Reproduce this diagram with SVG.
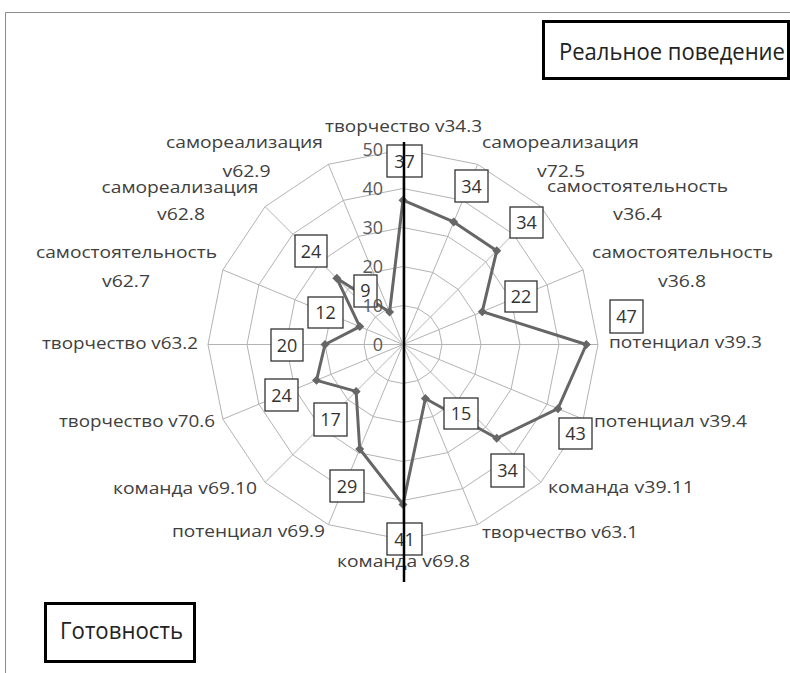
<svg xmlns="http://www.w3.org/2000/svg" width="790" height="673" viewBox="0 0 790 673">
<style>
.frame{stroke:#8c8c8c;stroke-width:1;fill:none}
.grid{stroke:#b3b3b3;stroke-width:1;fill:none}
.tick{font-family:"Open Sans","Liberation Sans",sans-serif;font-size:18px;fill:#595959;text-anchor:end}
.cat{font-family:"Open Sans","Liberation Sans",sans-serif;font-size:16px;fill:#404040}
.mid{text-anchor:middle}
.series{stroke:#666;stroke-width:3;fill:none;stroke-linejoin:round;marker-start:url(#dia);marker-mid:url(#dia)}
.lbox{fill:#fff;stroke:#333;stroke-width:1.3}
.ltxt{font-family:"Open Sans","Liberation Sans",sans-serif;font-size:18px;fill:#333;text-anchor:middle}
.tbox{fill:#fff;stroke:#000;stroke-width:3}
.ttxt{font-family:"Open Sans","Liberation Sans",sans-serif;font-size:23px;fill:#222}
</style>
<defs>
<marker id="dia" markerUnits="userSpaceOnUse" markerWidth="12" markerHeight="12" refX="6" refY="6" orient="0">
<path d="M6 1.5 L10.5 6 L6 10.5 L1.5 6 Z" fill="#666"/>
</marker>
</defs>
<rect width="790" height="673" fill="#fff"/>
<g id="frame">
<path class="frame" d="M5.5 673 V12.5 H790"/>
</g>
<g id="grid">
<polygon class="grid" points="403,149.5 477.62,164.34 540.89,206.61 583.16,269.88 598,344.5 583.16,419.12 540.89,482.39 477.62,524.66 403,539.5 328.38,524.66 265.11,482.39 222.84,419.12 208,344.5 222.84,269.88 265.11,206.61 328.38,164.34"/>
<polygon class="grid" points="403,188.5 462.70,200.37 513.31,234.19 547.13,284.80 559,344.5 547.13,404.20 513.31,454.81 462.70,488.63 403,500.5 343.30,488.63 292.69,454.81 258.87,404.20 247,344.5 258.87,284.80 292.69,234.19 343.30,200.37"/>
<polygon class="grid" points="403,227.5 447.77,236.41 485.73,261.77 511.09,299.73 520,344.5 511.09,389.27 485.73,427.23 447.77,452.59 403,461.5 358.23,452.59 320.27,427.23 294.91,389.27 286,344.5 294.91,299.73 320.27,261.77 358.23,236.41"/>
<polygon class="grid" points="403,266.5 432.85,272.44 458.15,289.35 475.06,314.65 481,344.5 475.06,374.35 458.15,399.65 432.85,416.56 403,422.5 373.15,416.56 347.85,399.65 330.94,374.35 325,344.5 330.94,314.65 347.85,289.35 373.15,272.44"/>
<polygon class="grid" points="403,305.5 417.92,308.47 430.58,316.92 439.03,329.58 442,344.5 439.03,359.42 430.58,372.08 417.92,380.53 403,383.5 388.08,380.53 375.42,372.08 366.97,359.42 364,344.5 366.97,329.58 375.42,316.92 388.08,308.47"/>
<path class="grid" d="M403 344.5 L403 149.5 M403 344.5 L477.62 164.34 M403 344.5 L540.89 206.61 M403 344.5 L583.16 269.88 M403 344.5 L598 344.5 M403 344.5 L583.16 419.12 M403 344.5 L540.89 482.39 M403 344.5 L477.62 524.66 M403 344.5 L403 539.5 M403 344.5 L328.38 524.66 M403 344.5 L265.11 482.39 M403 344.5 L222.84 419.12 M403 344.5 L208 344.5 M403 344.5 L222.84 269.88 M403 344.5 L265.11 206.61 M403 344.5 L328.38 164.34"/>
</g>
<g id="categories">
<text class="cat mid" x="403.5" y="132" textLength="157" lengthAdjust="spacingAndGlyphs">творчество v34.3</text>
<text class="cat mid" x="560.5" y="148" textLength="157" lengthAdjust="spacingAndGlyphs">самореализация</text>
<text class="cat mid" x="561" y="177" textLength="48" lengthAdjust="spacingAndGlyphs">v72.5</text>
<text class="cat mid" x="637.5" y="192" textLength="181" lengthAdjust="spacingAndGlyphs">самостоятельность</text>
<text class="cat mid" x="637.5" y="220" textLength="49" lengthAdjust="spacingAndGlyphs">v36.4</text>
<text class="cat mid" x="682.5" y="258" textLength="181" lengthAdjust="spacingAndGlyphs">самостоятельность</text>
<text class="cat mid" x="682" y="287" textLength="48" lengthAdjust="spacingAndGlyphs">v36.8</text>
<text class="cat" x="609" y="348" textLength="153" lengthAdjust="spacingAndGlyphs">потенциал v39.3</text>
<text class="cat" x="594" y="427" textLength="153" lengthAdjust="spacingAndGlyphs">потенциал v39.4</text>
<text class="cat" x="548" y="493" textLength="146" lengthAdjust="spacingAndGlyphs">команда v39.11</text>
<text class="cat" x="482" y="538" textLength="156" lengthAdjust="spacingAndGlyphs">творчество v63.1</text>
<text class="cat" x="337" y="567" textLength="133" lengthAdjust="spacingAndGlyphs">команда v69.8</text>
<text class="cat" x="172" y="537" textLength="153" lengthAdjust="spacingAndGlyphs">потенциал v69.9</text>
<text class="cat" x="113" y="494" textLength="144" lengthAdjust="spacingAndGlyphs">команда v69.10</text>
<text class="cat" x="59" y="427" textLength="156" lengthAdjust="spacingAndGlyphs">творчество v70.6</text>
<text class="cat" x="42" y="349" textLength="156" lengthAdjust="spacingAndGlyphs">творчество v63.2</text>
<text class="cat mid" x="126.5" y="258" textLength="181" lengthAdjust="spacingAndGlyphs">самостоятельность</text>
<text class="cat mid" x="126" y="287" textLength="48" lengthAdjust="spacingAndGlyphs">v62.7</text>
<text class="cat mid" x="180" y="193" textLength="157" lengthAdjust="spacingAndGlyphs">самореализация</text>
<text class="cat mid" x="181" y="220" textLength="48" lengthAdjust="spacingAndGlyphs">v62.8</text>
<text class="cat mid" x="244.5" y="148" textLength="157" lengthAdjust="spacingAndGlyphs">самореализация</text>
<text class="cat mid" x="246.5" y="177" textLength="48" lengthAdjust="spacingAndGlyphs">v62.9</text>
</g>
<g id="connectors">
<polygon class="series" points="403,200.2 453.74,221.99 496.76,250.74 482.27,311.67 586.3,344.5 557.93,408.68 496.76,438.26 425.39,398.55 403,504.4 359.72,448.99 356.12,391.38 316.52,380.32 325,344.5 359.76,326.59 336.81,278.31 389.57,312.07"/>
</g>
<g id="labels">
<g id="l1"><rect class="lbox" x="387" y="145" width="35" height="32"/><text class="ltxt" x="404.5" y="167.5">37</text></g>
<g id="l2"><rect class="lbox" x="455" y="170" width="33" height="32"/><text class="ltxt" x="471.5" y="192.5">34</text></g>
<g id="l3"><rect class="lbox" x="510" y="207" width="33" height="31"/><text class="ltxt" x="526.5" y="229">34</text></g>
<g id="l4"><rect class="lbox" x="505" y="281" width="32" height="31"/><text class="ltxt" x="521" y="303">22</text></g>
<g id="l5"><rect class="lbox" x="610" y="300" width="33" height="33"/><text class="ltxt" x="626.5" y="323">47</text></g>
<g id="l6"><rect class="lbox" x="559" y="418" width="33" height="31"/><text class="ltxt" x="575.5" y="440">43</text></g>
<g id="l7"><rect class="lbox" x="491" y="454" width="33" height="33"/><text class="ltxt" x="507.5" y="477">34</text></g>
<g id="l8"><rect class="lbox" x="444" y="398" width="34" height="31"/><text class="ltxt" x="461" y="420">15</text></g>
<g id="l9"><rect class="lbox" x="387" y="523" width="35" height="32"/><text class="ltxt" x="404.5" y="545.5">41</text></g>
<g id="l10"><rect class="lbox" x="330" y="470" width="34" height="32"/><text class="ltxt" x="347" y="492.5">29</text></g>
<g id="l11"><rect class="lbox" x="314" y="403" width="33" height="33"/><text class="ltxt" x="330.5" y="426">17</text></g>
<g id="l12"><rect class="lbox" x="265" y="379" width="33" height="32"/><text class="ltxt" x="281.5" y="401.5">24</text></g>
<g id="l13"><rect class="lbox" x="271" y="329" width="32" height="32"/><text class="ltxt" x="287" y="351.5">20</text></g>
<g id="l14"><rect class="lbox" x="308" y="297" width="35" height="31"/><text class="ltxt" x="325.5" y="319">12</text></g>
<g id="l15"><rect class="lbox" x="295" y="235" width="32" height="32"/><text class="ltxt" x="311" y="257.5">24</text></g>
<g id="l16"><rect class="lbox" x="354" y="275" width="23" height="32"/><text class="ltxt" x="365.5" y="296.5">9</text></g>
</g>
<g id="ticks">
<text class="tick" x="383" y="351">0</text>
<text class="tick" x="383" y="312">10</text>
<text class="tick" x="383" y="273">20</text>
<text class="tick" x="383" y="234">30</text>
<text class="tick" x="383" y="195">40</text>
<text class="tick" x="383" y="156">50</text>
</g>
<g id="divider">
<line x1="404" y1="142" x2="404" y2="582" stroke="#000" stroke-width="2.5"/>
</g>
<g id="real-behavior">
<rect class="tbox" x="543.5" y="21.5" width="245" height="57"/>
<text class="ttxt" x="559" y="60" textLength="226" lengthAdjust="spacingAndGlyphs">Реальное поведение</text>
</g>
<g id="readiness">
<rect class="tbox" x="45.5" y="603.5" width="149" height="58"/>
<text class="ttxt" x="60" y="639" textLength="123" lengthAdjust="spacingAndGlyphs">Готовность</text>
</g>
</svg>
